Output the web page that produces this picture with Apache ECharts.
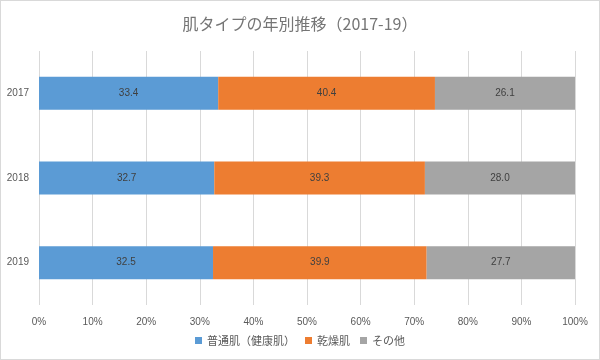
<!DOCTYPE html>
<html>
<head>
<meta charset="utf-8">
<script src="https://cdn.jsdelivr.net/npm/echarts@6/dist/echarts.min.js"></script>
<style>
html,body{margin:0;padding:0;background:#fff;}
#c{width:598px;height:358px;border:1px solid #d9d9d9;}
</style>
</head>
<body>
<div id="c"></div>
<script>
const categories = ['2017', '2018', '2019'];
const seriesNames = ['普通肌（健康肌）', '乾燥肌', 'その他'];
const normalSkin = [33.4, 32.7, 32.5];
const drySkin = [40.4, 39.3, 39.9];
const otherSkin = [26.1, 28.0, 27.7];
const colors = ['#5B9BD5', '#ED7D31', '#A5A5A5'];

const raw = [normalSkin, drySkin, otherSkin];
const totals = categories.map((_, i) => raw.reduce((s, arr) => s + arr[i], 0));

const chart = echarts.init(document.getElementById('c'));
chart.setOption({
  animation: false,
  title: {
    text: '肌タイプの年別推移（2017-19）',
    left: 'center',
    top: 10,
    textStyle: {color: '#757575', fontSize: 16, fontWeight: 'normal', fontFamily: 'Noto Sans CJK JP'}
  },
  legend: {
    bottom: 8,
    itemWidth: 7, itemHeight: 7, itemGap: 10,
    icon: 'rect',
    textStyle: {color: '#595959', fontSize: 11, fontFamily: 'Noto Sans CJK JP'},
    data: seriesNames
  },
  grid: {left: 38, right: 24, top: 50, bottom: 54},
  xAxis: {
    type: 'value', min: 0, max: 100, interval: 10,
    axisLabel: {formatter: '{value}%', color: '#595959', fontSize: 10, margin: 12},
    splitLine: {lineStyle: {color: '#d9d9d9'}},
    axisLine: {show: false}, axisTick: {show: false}
  },
  yAxis: {
    type: 'category', data: categories, inverse: true,
    axisLabel: {color: '#595959', fontSize: 10, margin: 10},
    axisLine: {show: false}, axisTick: {show: false}
  },
  series: raw.map((arr, k) => ({
    name: seriesNames[k],
    type: 'bar',
    stack: 'total',
    barWidth: 33,
    itemStyle: {color: colors[k]},
    label: {
      show: true, position: 'inside', color: '#404040', fontSize: 10,
      formatter: p => arr[p.dataIndex].toFixed(1)
    },
    data: arr.map((v, i) => v / totals[i] * 100)
  }))
});
</script>
</body>
</html>
